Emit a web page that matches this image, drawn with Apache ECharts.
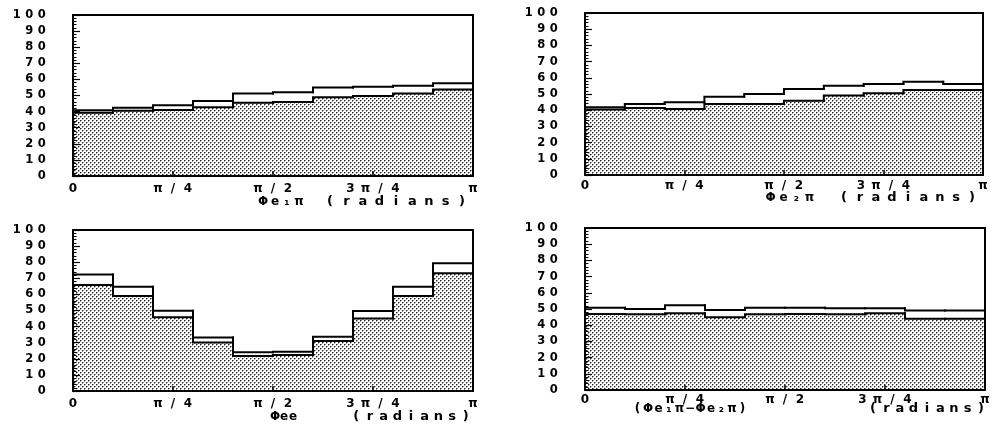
<!DOCTYPE html>
<html><head><meta charset="utf-8">
<script src="https://cdn.jsdelivr.net/npm/echarts@6/dist/echarts.min.js"></script>
<style>html,body{margin:0;padding:0;background:#fff}#c{width:994px;height:426px}</style>
</head><body><div id="c"></div>
<script>
// bin edges in units of pi/10 (10 bins from 0 to pi)
const binEdges = [0,1,2,3,4,5,6,7,8,9,10];
const xTickLabels = ['0','π/4','π/2','3π/4','π'];

// panel 1: phi_e1pi
const p1All = [40.8, 42.4, 43.9, 46.6, 51.3, 52.0, 54.9, 55.5, 56.1, 57.6];
const p1Sel = [39.3, 40.6, 41.0, 42.7, 45.5, 46.0, 48.9, 49.7, 51.3, 53.8];
// panel 2: phi_e2pi
const p2All = [41.8, 43.8, 44.9, 48.3, 50.0, 53.1, 55.1, 56.2, 57.6, 56.2];
const p2Sel = [40.5, 41.4, 40.7, 43.8, 43.8, 45.9, 49.0, 50.4, 52.5, 52.5];
// panel 3: phi_ee
const p3All = [72.3, 64.8, 49.9, 33.2, 24.0, 24.4, 33.7, 49.7, 64.8, 79.3];
const p3Sel = [65.8, 59.0, 45.8, 30.2, 21.7, 22.4, 31.0, 45.1, 59.0, 73.1];
// panel 4: phi_e1pi - phi_e2pi
const p4All = [50.8, 50.0, 52.3, 49.4, 50.8, 50.8, 50.4, 50.4, 49.0, 49.0];
const p4Sel = [46.9, 46.7, 47.3, 44.9, 46.7, 46.9, 46.7, 47.3, 44.0, 44.0];

const titles = ['Φe₁π', 'Φe₂π', 'Φee', '(Φe₁π−Φe₂π)'];
const unitLabel = '(radians)';

const panels = [
  {all:p1All, sel:p1Sel, grid:{left:73, top:15, width:400, height:161}, lm:7, title:{x:281,y:202,w:12}, unit:{x:396,y:202,w:16.5}},
  {all:p2All, sel:p2Sel, grid:{left:585, top:13, width:398, height:162}, lm:5, title:{x:790,y:198,w:13}, unit:{x:908,y:198,w:16}},
  {all:p3All, sel:p3Sel, grid:{left:73, top:230, width:400, height:161}, lm:7, title:{x:284,y:417,w:9}, unit:{x:411,y:417,w:13.7}},
  {all:p4All, sel:p4Sel, grid:{left:585, top:228, width:400, height:162}, lm:4, title:{x:690,y:409,w:10.5}, unit:{x:927,y:409,w:13.5}}
];

const FONT = 'DejaVu Sans';
function spaced(s, key){ return Array.from(s).map(c => '{' + key + '|' + c + '}').join(''); }
function richCell(w, size){ return {width:w, align:'center', fontSize:size, fontWeight:'bold', fontFamily:FONT, color:'#000'}; }

function makeStipple(){
  const c = document.createElement('canvas'); c.width = 4; c.height = 4;
  const g = c.getContext('2d');
  g.fillStyle = '#fff'; g.fillRect(0,0,4,4);
  g.fillStyle = '#222'; g.fillRect(0,0,1,1); g.fillRect(2,2,1,1);
  g.fillStyle = '#999'; g.fillRect(1,0,1,1); g.fillRect(0,1,1,1); g.fillRect(3,2,1,1); g.fillRect(2,3,1,1);
  return c;
}
const stipple = makeStipple();

// each item: [binLow, binHigh, value, previousBinValue]
function histItems(vals){ return vals.map((v,i) => [binEdges[i], binEdges[i+1], v, i > 0 ? vals[i-1] : v]); }

function histRenderer(filled){
  return function(params, api){
    const lo = api.value(0), hi = api.value(1), v = api.value(2), pv = api.value(3);
    const pL = api.coord([lo, v]), pR = api.coord([hi, v]), p0 = api.coord([lo, 0]), pP = api.coord([lo, pv]);
    const children = [];
    if (filled) {
      children.push({type:'rect', z2:0, shape:{x:pL[0], y:pL[1], width:pR[0]-pL[0], height:p0[1]-pL[1]},
        style:{fill:{image:stipple, repeat:'repeat'}}});
    }
    children.push({type:'polyline', z2:5, shape:{points:[pP, pL, pR]},
      style:{stroke:'#000', lineWidth:2, fill:null, lineCap:'square', lineJoin:'miter'}});
    return {type:'group', children};
  };
}

const grid = [], xAxis = [], yAxis = [], series = [], graphic = [];
const lineBlack = {color:'#000', width:2};
panels.forEach((p, i) => {
  grid.push(Object.assign({containLabel:false}, p.grid));
  xAxis.push({type:'value', gridIndex:i, position:'bottom', min:0, max:10, interval:2.5, z:10,
    axisLine:{show:true, onZero:false, lineStyle:lineBlack},
    axisTick:{show:true, inside:true, length:5, lineStyle:{color:'#000', width:1.5}},
    splitLine:{show:false},
    axisLabel:{margin:p.lm, formatter:v => spaced(xTickLabels[Math.round(v/2.5)], 'x'), rich:{x:richCell(15, 12)}}
  });
  xAxis.push({type:'value', gridIndex:i, position:'top', min:0, max:10, z:10,
    axisLine:{show:true, onZero:false, lineStyle:lineBlack}, axisTick:{show:false}, axisLabel:{show:false}, splitLine:{show:false}});
  yAxis.push({type:'value', gridIndex:i, position:'left', min:0, max:100, interval:10, z:10,
    axisLine:{show:true, onZero:false, lineStyle:lineBlack},
    axisTick:{show:true, inside:true, length:7, lineStyle:{color:'#000', width:1.2}},
    minorTick:{show:true, splitNumber:5, length:3.5, lineStyle:{color:'#000', width:1}},
    splitLine:{show:false}, minorSplitLine:{show:false},
    axisLabel:{margin:25, formatter:v => spaced(String(v), 'y'), rich:{y:richCell(12.5, 11.5)}}
  });
  yAxis.push({type:'value', gridIndex:i, position:'right', min:0, max:100, z:10,
    axisLine:{show:true, onZero:false, lineStyle:lineBlack}, axisTick:{show:false}, axisLabel:{show:false}, splitLine:{show:false}});
  series.push({type:'custom', coordinateSystem:'cartesian2d', xAxisIndex:2*i, yAxisIndex:2*i, z:2, silent:true,
    renderItem:histRenderer(true), data:histItems(p.sel), animation:false});
  series.push({type:'custom', coordinateSystem:'cartesian2d', xAxisIndex:2*i, yAxisIndex:2*i, z:3, silent:true,
    renderItem:histRenderer(false), data:histItems(p.all), animation:false});
  graphic.push({type:'text', x:p.title.x, y:p.title.y, style:{text:spaced(titles[i], 't'), align:'center', verticalAlign:'middle',
    rich:{t:richCell(p.title.w, 12)}}});
  graphic.push({type:'text', x:p.unit.x, y:p.unit.y, style:{text:spaced(unitLabel, 'u'), align:'center', verticalAlign:'middle',
    rich:{u:richCell(p.unit.w, 13)}}});
});

const chart = echarts.init(document.getElementById('c'), null, {renderer:'canvas'});
chart.setOption({animation:false, backgroundColor:'#fff', grid, xAxis, yAxis, series, graphic});
</script>
</body></html>
